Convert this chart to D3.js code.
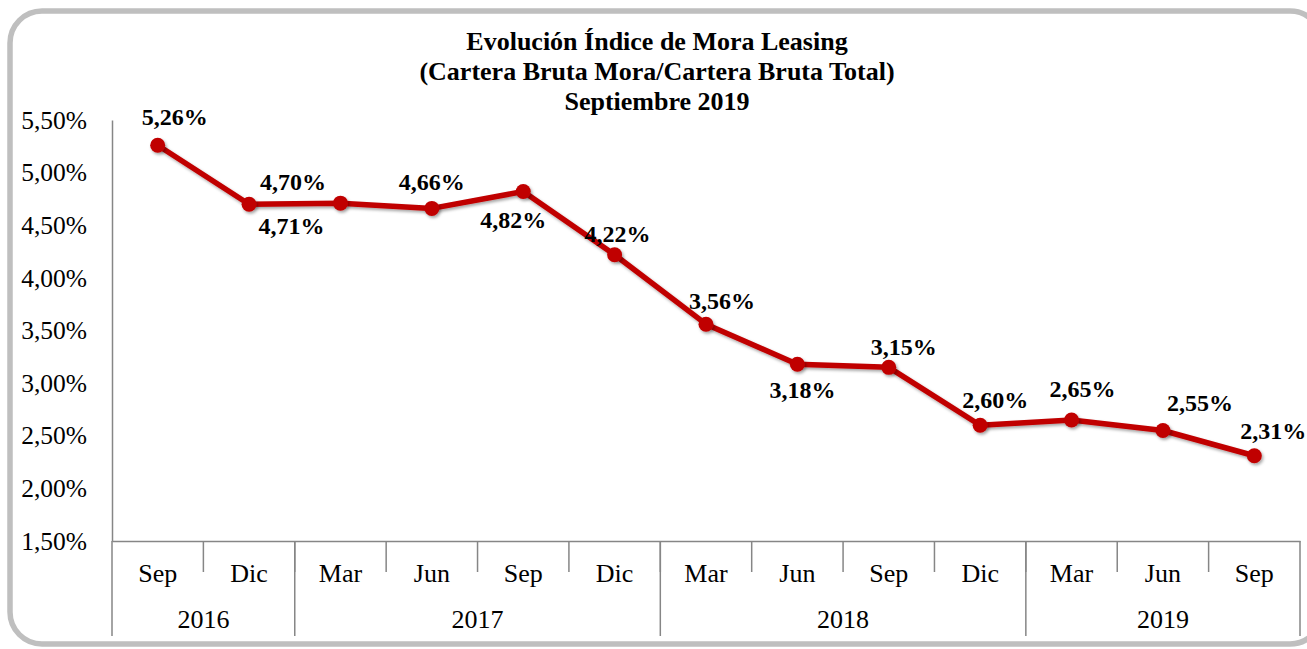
<!DOCTYPE html>
<html>
<head>
<meta charset="utf-8">
<script src="https://cdn.jsdelivr.net/npm/d3@7"></script>
<style>
  html, body { margin: 0; padding: 0; background: #ffffff; }
  svg { display: block; }
</style>
</head>
<body>
<svg id="chart" width="1307" height="649"></svg>
<script>
// ---- data ----
const months = ["Sep", "Dic", "Mar", "Jun", "Sep", "Dic", "Mar", "Jun", "Sep", "Dic", "Mar", "Jun", "Sep"];
const years = ["2016", "2017", "2018", "2019"];
const yearSpans = [2, 4, 4, 3]; // number of quarters per year
const values = [5.26, 4.70, 4.71, 4.66, 4.82, 4.22, 3.56, 3.18, 3.15, 2.60, 2.65, 2.55, 2.31];
const yTicks = [1.5, 2.0, 2.5, 3.0, 3.5, 4.0, 4.5, 5.0, 5.5];
const titleLines = ["Evolución Índice de Mora Leasing", "(Cartera Bruta Mora/Cartera Bruta Total)", "Septiembre 2019"];

// label placement offsets (dx, dy) relative to each point
const labelOffsets = [[17, -29], [44, -23], [-49, 22], [0, -27], [-10, 28], [3, -21], [16, -24],
                      [5, 25], [15, -21], [15, -26], [11, -31], [37, -28], [19, -25]];

const fmt = v => v.toFixed(2).replace(".", ",") + "%";

const svg = d3.select("#chart");
const FONT = "'Liberation Serif', 'Times New Roman', serif";

// border
svg.append("rect")
  .attr("x", 10).attr("y", 11)
  .attr("width", 1312).attr("height", 633)
  .attr("rx", 32).attr("ry", 32)
  .attr("fill", "#ffffff")
  .attr("stroke", "#bfbfbf").attr("stroke-width", 5.5);

// title
svg.append("g").selectAll("text")
  .data(titleLines).join("text")
  .attr("x", 657).attr("y", (d, i) => 50 + i * 30)
  .attr("text-anchor", "middle")
  .attr("font-family", FONT).attr("font-weight", "bold").attr("font-size", 26)
  .attr("fill", "#000").text(d => d);

// scales
const plotLeft = 112, plotRight = 1300, plotTop = 120, plotBottom = 541;
const x = d3.scaleBand().domain(d3.range(months.length)).range([plotLeft, plotRight]).padding(0);
const y = d3.scaleLinear().domain([1.5, 5.5]).range([plotBottom, plotTop]);

// y axis
const yAxis = svg.append("g").attr("transform", `translate(${plotLeft},0)`)
  .call(d3.axisLeft(y).tickValues(yTicks).tickSize(0).tickPadding(25).tickFormat(fmt));
yAxis.select(".domain").attr("stroke", "#868686").attr("stroke-width", 1.5);
yAxis.selectAll("text").attr("font-family", FONT).attr("font-size", 25.5).attr("fill", "#000");

// x axis line
const xAxis = svg.append("g").attr("transform", `translate(0,${plotBottom})`)
  .call(d3.axisBottom(x).tickSize(0).tickFormat(""));
xAxis.select(".domain").attr("stroke", "#868686").attr("stroke-width", 1.5);
xAxis.selectAll(".tick").remove();

// month separators and labels
const bw = x.bandwidth();
const monthSep = d3.range(1, months.length).map(i => x(i));
svg.append("g").selectAll("line").data(monthSep).join("line")
  .attr("x1", d => d).attr("x2", d => d)
  .attr("y1", plotBottom).attr("y2", plotBottom + 31)
  .attr("stroke", "#868686").attr("stroke-width", 1.5);
svg.append("g").selectAll("text").data(months).join("text")
  .attr("x", (d, i) => x(i) + bw / 2).attr("y", plotBottom + 41)
  .attr("text-anchor", "middle")
  .attr("font-family", FONT).attr("font-size", 26).attr("fill", "#000")
  .text(d => d);

// year groups
let acc = 0;
const yearBounds = [0];
yearSpans.forEach(s => { acc += s; yearBounds.push(acc); });
const yearEdgeX = yearBounds.map(i => i < months.length ? x(i) : x(months.length - 1) + bw);
svg.append("g").selectAll("line").data(yearEdgeX).join("line")
  .attr("x1", d => d).attr("x2", d => d)
  .attr("y1", plotBottom).attr("y2", plotBottom + 95)
  .attr("stroke", "#868686").attr("stroke-width", 1.5);
svg.append("g").selectAll("text").data(years).join("text")
  .attr("x", (d, i) => (yearEdgeX[i] + yearEdgeX[i + 1]) / 2).attr("y", plotBottom + 87)
  .attr("text-anchor", "middle")
  .attr("font-family", FONT).attr("font-size", 26).attr("fill", "#000")
  .text(d => d);

// shadow filter
const defs = svg.append("defs");
const f = defs.append("filter").attr("id", "shadow").attr("x", "-50%").attr("y", "-50%").attr("width", "200%").attr("height", "200%");
f.append("feDropShadow").attr("dx", 1.5).attr("dy", 2).attr("stdDeviation", 1.8)
  .attr("flood-color", "#000").attr("flood-opacity", 0.35);

// line
const line = d3.line().x((d, i) => x(i) + bw / 2).y(d => y(d));
svg.append("path").datum(values)
  .attr("d", line)
  .attr("fill", "none").attr("stroke", "#c00000").attr("stroke-width", 5.5)
  .attr("stroke-linejoin", "round")
  .attr("filter", "url(#shadow)");

// markers
svg.append("g").selectAll("circle").data(values).join("circle")
  .attr("cx", (d, i) => x(i) + bw / 2).attr("cy", d => y(d))
  .attr("r", 7.5)
  .attr("fill", "#c00000")
  .attr("filter", "url(#shadow)");

// data labels
svg.append("g").selectAll("text").data(values).join("text")
  .attr("x", (d, i) => x(i) + bw / 2 + labelOffsets[i][0])
  .attr("y", (d, i) => y(d) + labelOffsets[i][1])
  .attr("dy", "0.35em")
  .attr("text-anchor", "middle")
  .attr("font-family", FONT).attr("font-weight", "bold").attr("font-size", 24)
  .attr("fill", "#000")
  .text(d => fmt(d));
</script>
</body>
</html>
